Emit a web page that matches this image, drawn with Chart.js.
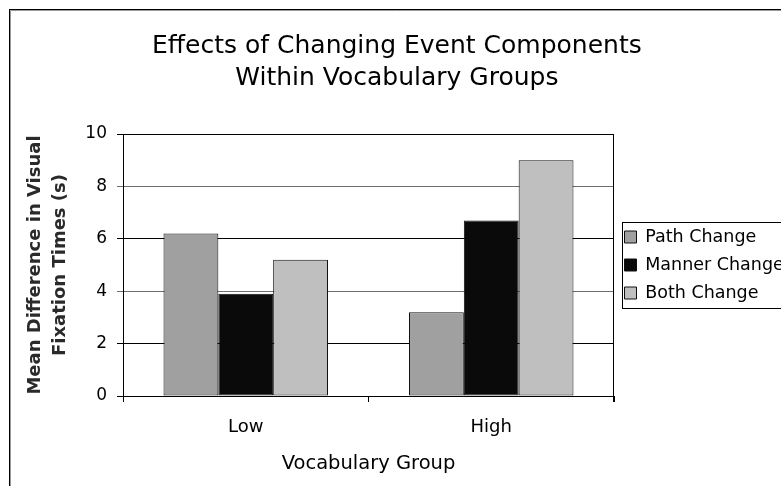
<!DOCTYPE html>
<html>
<head>
<meta charset="utf-8">
<script src="https://cdn.jsdelivr.net/npm/chart.js@4.4.0/dist/chart.umd.min.js"></script>
<style>
  html, body { margin: 0; padding: 0; background: #fff; }
  #wrap { width: 781px; height: 486px; }
</style>
</head>
<body>
<div id="wrap"><canvas id="chart" width="781" height="486"></canvas></div>
<script>
// data
const groups = ['Low', 'High'];
const seriesNames = ['Path Change', 'Manner Change', 'Both Change'];
const pathChange = [6.2, 3.2];
const mannerChange = [3.9, 6.7];
const bothChange = [5.2, 9.0];
const yTicks = [0, 2, 4, 6, 8, 10];

const seriesColors = ['#a0a0a0', '#0a0a0a', '#bfbfbf'];
const FONT = 'DejaVu Sans';
const LEGEND_SIZE = 17.5;
const LEGEND_PAD = 10.5;
const PLOT_RIGHT = 614;

Chart.defaults.font.family = FONT;
Chart.defaults.color = '#000';

// legend sits right of the plot, its long label runs off the canvas like the original
const probe = document.createElement('canvas').getContext('2d');
probe.font = LEGEND_SIZE + 'px "' + FONT + '"';
const widestLabel = Math.max(...seriesNames.map(n => probe.measureText(n).width));
const legendWidth = LEGEND_PAD + 12 + LEGEND_SIZE / 2 + widestLabel + 10;
const padRight = 781 - PLOT_RIGHT - legendWidth;

// outer frame + right edge of the plot area
const framePlugin = {
  id: 'frame',
  beforeDraw(chart) {
    const c = chart.ctx;
    c.save();
    c.fillStyle = '#fff';
    c.fillRect(0, 0, chart.width, chart.height);
    c.strokeStyle = '#000';
    c.lineWidth = 1;
    c.strokeRect(9.5, 9.5, chart.width + 20, chart.height + 20);
    c.strokeStyle = '#999';
    c.beginPath();
    c.moveTo(10.5, chart.height + 5);
    c.lineTo(10.5, 10.5);
    c.lineTo(chart.width + 5, 10.5);
    c.stroke();
    c.restore();
  },
  afterDatasetsDraw(chart) {
    const a = chart.chartArea;
    const c = chart.ctx;
    const x = Math.round(a.right) - 0.5;
    c.save();
    c.strokeStyle = '#000';
    c.lineWidth = 1;
    c.beginPath();
    c.moveTo(x, Math.round(a.top));
    c.lineTo(x, Math.round(a.bottom) + 6);
    c.stroke();
    c.restore();
  }
};

// box around the legend
const legendFrame = {
  id: 'legendFrame',
  afterDraw(chart) {
    const boxes = chart.legend && chart.legend.legendHitBoxes;
    if (!boxes || !boxes.length) return;
    const first = boxes[0];
    const last = boxes[boxes.length - 1];
    const left = Math.round(first.left - 3) + 0.5;
    const top = Math.round(first.top - 6) + 0.5;
    const bottom = Math.round(last.top + last.height + 6) + 0.5;
    const c = chart.ctx;
    c.save();
    c.strokeStyle = '#000';
    c.lineWidth = 1;
    c.strokeRect(left, top, chart.width + 20 - left, bottom - top);
    c.restore();
  }
};

const ctx = document.getElementById('chart').getContext('2d');
new Chart(ctx, {
  type: 'bar',
  data: {
    labels: groups,
    datasets: [pathChange, mannerChange, bothChange].map((vals, i) => ({
      label: seriesNames[i],
      data: vals,
      backgroundColor: seriesColors[i],
      borderColor: '#111',
      borderWidth: 1,
      borderSkipped: false,
      categoryPercentage: 0.67,
      barPercentage: 1.0
    }))
  },
  options: {
    responsive: false,
    animation: false,
    devicePixelRatio: 1,
    layout: { padding: { left: 0, top: 0, right: padRight, bottom: 0 } },
    plugins: {
      title: {
        display: true,
        text: ['Effects of Changing Event Components', 'Within Vocabulary Groups'],
        color: '#000',
        font: { size: 25, weight: 'normal', lineHeight: 1.3 },
        padding: { top: 30, bottom: 39 }
      },
      legend: {
        position: 'right',
        align: 'center',
        fullSize: false,
        labels: {
          boxWidth: 12,
          boxHeight: 12,
          padding: LEGEND_PAD,
          color: '#000',
          font: { size: LEGEND_SIZE }
        }
      },
      tooltip: { enabled: false }
    },
    scales: {
      x: {
        afterFit: s => { s.height = 90; },
        grid: { offset: true, drawOnChartArea: false, tickLength: 6, color: '#000' },
        border: { display: true, color: '#000', width: 1 },
        ticks: { color: '#000', padding: 15, font: { size: 18 } },
        title: {
          display: true,
          text: 'Vocabulary Group',
          color: '#000',
          font: { size: 19.5 },
          padding: { top: 4, bottom: 10 }
        }
      },
      y: {
        min: 0,
        max: 10,
        afterBuildTicks: s => { s.ticks = yTicks.map(v => ({ value: v })); },
        afterFit: s => { s.width = 123; },
        grid: {
          tickLength: 6,
          color: c => (c.tick && c.tick.value > 0 && c.tick.value < 10 && c.tick.value % 4 === 0) ? '#6e6e6e' : '#000'
        },
        border: { display: true, color: '#000', width: 1 },
        ticks: { color: '#000', padding: 10, font: { size: 17 } },
        title: {
          display: true,
          text: ['Mean Difference in Visual', 'Fixation Times (s)'],
          color: '#2a2a2a',
          font: { size: 18, weight: 'bold', lineHeight: 1.39 },
          padding: { top: 22.5, bottom: 0 }
        }
      }
    }
  },
  plugins: [framePlugin, legendFrame]
});
</script>
</body>
</html>
